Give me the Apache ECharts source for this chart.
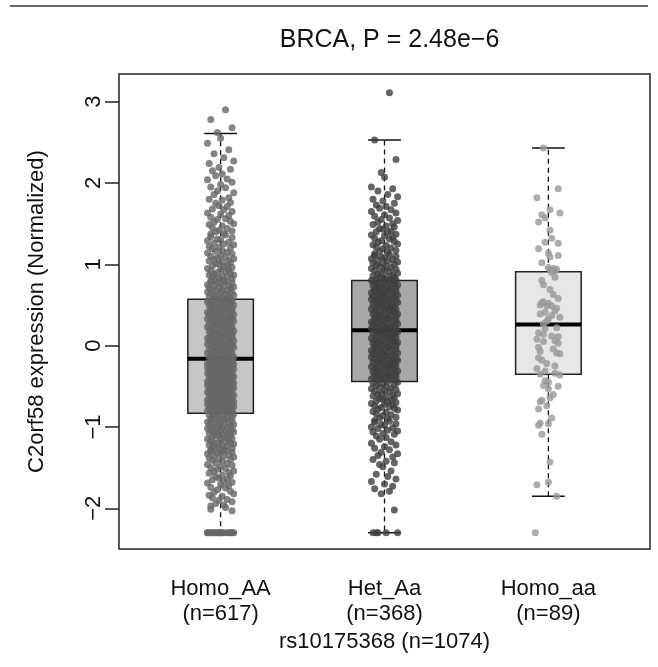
<!DOCTYPE html>
<html><head><meta charset="utf-8">
<script src="https://cdn.jsdelivr.net/npm/echarts@6/dist/echarts.min.js"></script>
<style>html,body{margin:0;padding:0;background:#fff}#c{width:658px;height:667px}</style>
</head><body><div id="c"></div>
<script>
const categories = ['Homo_AA', 'Het_Aa', 'Homo_aa'];
const groupCounts = [617, 368, 89];
const totalCount = 1074;
const titleText = 'BRCA, P = 2.48e\u22126';
const snpName = 'rs10175368';
const yTicks = [-2, -1, 0, 1, 2, 3];

// box statistics (whisker low, Q1, median, Q3, whisker high)
const boxLow = [-2.30, -2.30, -1.85];
const boxQ1 = [-0.83, -0.44, -0.35];
const boxMedian = [-0.16, 0.19, 0.26];
const boxQ3 = [0.57, 0.80, 0.91];
const boxHigh = [2.61, 2.53, 2.43];

// horizontal jitter offsets (hundredths of a category step)
const jitterTable = [3,-6,7,-2,0,-8,5,-4,2,8,-7,-1,6,-5,1,-3,4,-8,7,0,-6,3,-2,8,-4,5,-7,1,6,-3,-1,4,-5,2,7,-8,0,5,-6,3,-2,6,-4,8,-7,1,-5,4,-1,7,-3,2,-6];

const homoAAValues = [
2.90,2.78,2.68,2.62,2.55,2.49,2.41,2.36,2.31,2.27,2.24,2.19,2.17,2.15,2.11,2.09,2.05,2.04,2.01,1.98,1.95,1.94,1.90,1.88,1.86,1.82,1.80,1.79,1.76,1.75,1.72,1.71,1.68,1.67,1.65,1.63,1.62,1.60,1.58,1.56,1.55,1.53,1.52,1.50,1.49,1.47,1.45,1.44,1.42,1.41,1.40,1.38,1.37,1.36,1.34,1.33,1.31,1.30,1.29,1.27,1.26,1.25,1.24,1.22,1.21,1.20,1.19,1.17,1.16,1.15,1.14,1.13,1.11,1.10,1.09,1.08,1.07,1.06,1.05,1.04,1.03,1.02,1.01,1.00,0.99,0.98,0.97,0.96,0.95,0.94,0.93,0.92,0.91,0.90,0.89,0.88,0.87,0.87,0.86,0.85,0.84,0.83,0.82,0.81,0.80,0.80,0.79,0.78,0.77,0.77,0.76,0.75,0.74,0.74,0.73,0.72,0.71,0.71,0.70,0.69,0.68,0.68,0.67,0.66,0.65,0.65,0.64,0.63,0.62,0.62,0.61,0.60,0.60,0.59,0.58,0.58,0.57,0.57,
0.56,0.56,0.55,0.54,0.54,0.53,0.53,0.52,0.51,0.51,0.50,0.50,0.49,0.48,0.48,0.47,0.47,0.46,0.45,0.45,0.44,0.44,0.43,0.42,0.42,0.41,0.41,0.40,0.39,0.39,0.38,0.38,0.37,0.36,0.36,0.35,0.35,0.34,0.33,0.33,0.32,0.32,0.31,0.30,0.30,0.29,0.29,0.28,0.27,0.27,0.26,0.26,0.25,0.24,0.24,0.23,0.23,0.22,0.21,0.21,0.20,0.20,0.19,0.18,0.18,0.17,0.17,0.16,0.15,0.15,0.14,0.14,0.13,0.12,0.12,0.11,0.11,0.10,0.09,0.09,0.08,0.08,0.07,0.06,0.06,0.05,0.05,0.04,0.03,0.03,0.02,0.02,0.01,0.00,0.00,-0.01,-0.01,-0.02,-0.03,-0.03,-0.04,-0.04,-0.05,-0.06,-0.06,-0.07,-0.07,-0.08,-0.09,-0.09,-0.10,-0.10,-0.11,-0.12,-0.12,-0.13,-0.13,-0.14,-0.15,-0.15,-0.16,
-0.17,-0.17,-0.18,-0.18,-0.19,-0.19,-0.19,-0.20,-0.20,-0.21,-0.21,-0.22,-0.22,-0.22,-0.23,-0.23,-0.24,-0.24,-0.25,-0.25,-0.25,-0.26,-0.26,-0.27,-0.27,-0.28,-0.28,-0.28,-0.29,-0.29,-0.30,-0.30,-0.31,-0.31,-0.31,-0.32,-0.32,-0.33,-0.33,-0.34,-0.34,-0.34,-0.35,-0.35,-0.36,-0.36,-0.37,-0.37,-0.37,-0.38,-0.38,-0.39,-0.39,-0.40,-0.40,-0.40,-0.41,-0.41,-0.42,-0.42,-0.43,-0.43,-0.43,-0.44,-0.44,-0.45,-0.45,-0.46,-0.46,-0.46,-0.47,-0.47,-0.48,-0.48,-0.49,-0.49,-0.49,-0.50,-0.50,-0.51,-0.51,-0.52,-0.52,-0.52,-0.53,-0.53,-0.54,-0.54,-0.55,-0.55,-0.55,-0.56,-0.56,-0.57,-0.57,-0.58,-0.58,-0.58,-0.59,-0.59,-0.60,-0.60,-0.61,-0.61,-0.61,-0.62,-0.62,-0.63,-0.63,-0.64,-0.64,-0.64,-0.65,-0.65,-0.66,-0.66,-0.67,-0.67,-0.67,-0.68,-0.68,-0.69,-0.69,-0.70,-0.70,-0.70,-0.71,-0.71,-0.72,-0.72,-0.73,-0.73,-0.73,-0.74,-0.74,-0.75,-0.75,-0.76,-0.76,-0.76,-0.77,-0.77,-0.78,-0.78,-0.79,-0.79,-0.79,-0.80,-0.80,-0.81,-0.81,-0.82,-0.82,
-0.83,-0.84,-0.84,-0.85,-0.86,-0.86,-0.87,-0.88,-0.88,-0.89,-0.90,-0.90,-0.91,-0.92,-0.92,-0.93,-0.94,-0.94,-0.95,-0.96,-0.96,-0.97,-0.98,-0.98,-0.99,-1.00,-1.00,-1.01,-1.02,-1.02,-1.03,-1.04,-1.04,-1.05,-1.06,-1.06,-1.07,-1.08,-1.08,-1.09,-1.10,-1.10,
-1.11,-1.12,-1.13,-1.13,-1.14,-1.15,-1.16,-1.16,-1.17,-1.18,-1.19,-1.20,-1.20,-1.21,-1.22,-1.23,-1.24,-1.24,-1.25,-1.26,-1.27,-1.28,-1.28,-1.29,-1.30,-1.31,-1.32,-1.32,-1.33,-1.34,-1.35,-1.36,-1.37,-1.38,-1.39,-1.40,
-1.41,-1.42,-1.44,-1.45,-1.46,-1.47,-1.49,-1.50,-1.51,-1.52,-1.54,-1.55,-1.56,-1.57,-1.59,-1.60,-1.61,-1.63,-1.64,-1.65,-1.67,-1.68,-1.69,
-1.71,-1.72,-1.74,-1.75,-1.77,-1.79,-1.80,-1.82,-1.84,-1.85,-1.87,-1.89,-1.90,-1.92,-1.94,-1.96,-1.97,-1.99,-2.01,-2.03,
-2.30,-2.30,-2.30,-2.30,-2.30,-2.30,-2.30,-2.30,-2.30,-2.30,-2.30,-2.30,-2.30,-2.30,-2.30,-2.30,-2.30,-2.30
];

const hetAaValues = [
3.11,2.53,2.29,2.13,2.07,1.95,1.93,1.90,1.86,1.83,1.80,1.78,1.75,1.73,1.71,1.69,1.67,1.65,1.63,1.61,1.59,1.57,1.55,1.54,1.52,1.50,1.49,1.47,1.46,1.44,1.43,1.41,1.40,1.39,1.37,1.36,1.35,1.33,1.32,1.31,1.29,1.28,1.27,1.25,1.24,1.23,1.21,1.20,1.19,1.17,1.16,1.15,1.13,1.12,1.11,1.10,1.09,1.08,1.07,1.06,1.05,1.04,1.03,1.02,1.01,1.00,0.99,0.98,0.97,0.96,0.95,0.94,0.93,0.92,0.91,0.90,0.89,0.88,0.87,0.86,0.85,0.84,0.84,0.83,0.82,0.82,0.81,0.81,0.80,
0.79,0.79,0.78,0.77,0.77,0.76,0.75,0.75,0.74,0.73,0.73,0.72,0.71,0.71,0.70,0.69,0.69,0.68,0.67,0.67,0.66,0.65,0.65,0.64,0.63,0.63,0.62,0.61,0.61,0.60,0.59,0.59,0.58,0.57,0.57,0.56,0.55,0.55,0.54,0.53,0.53,0.52,0.51,0.51,0.50,0.49,0.49,0.48,0.47,0.47,0.46,0.45,0.45,0.44,0.43,0.43,0.42,0.41,0.41,0.40,0.39,0.39,0.38,0.37,0.37,0.36,0.35,0.35,0.34,0.33,0.33,0.32,0.31,0.31,0.30,0.29,0.29,0.28,0.27,0.27,0.26,0.25,0.25,0.24,0.23,0.23,0.22,0.21,0.21,0.20,0.19,0.19,
0.18,0.17,0.17,0.16,0.15,0.15,0.14,0.13,0.13,0.12,0.11,0.11,0.10,0.09,0.09,0.08,0.07,0.07,0.06,0.05,0.05,0.04,0.03,0.03,0.02,0.01,0.01,0.00,-0.01,-0.01,-0.02,-0.03,-0.03,-0.04,-0.05,-0.05,-0.06,-0.07,-0.07,-0.08,-0.09,-0.09,-0.10,-0.11,-0.11,-0.12,-0.13,-0.13,-0.14,-0.15,-0.15,-0.16,-0.17,-0.17,-0.18,-0.19,-0.19,-0.20,-0.21,-0.21,-0.22,-0.23,-0.23,-0.24,-0.25,-0.25,-0.26,-0.27,-0.27,-0.28,-0.29,-0.29,-0.30,-0.31,-0.31,-0.32,-0.33,-0.33,-0.34,-0.35,-0.35,-0.36,-0.37,-0.37,-0.38,-0.39,-0.39,-0.40,-0.41,-0.41,-0.42,-0.43,-0.44,
-0.45,-0.46,-0.47,-0.48,-0.49,-0.50,-0.51,-0.52,-0.53,-0.54,-0.55,-0.56,-0.57,-0.58,-0.59,-0.60,-0.61,-0.62,-0.63,-0.64,-0.65,-0.66,-0.67,-0.68,-0.69,-0.70,-0.71,-0.72,-0.73,-0.74,-0.75,-0.76,-0.77,-0.78,-0.79,
-0.81,-0.82,-0.84,-0.85,-0.86,-0.88,-0.89,-0.90,-0.92,-0.93,-0.94,-0.96,-0.97,-0.98,-1.00,-1.01,-1.02,-1.04,-1.05,-1.06,-1.08,-1.09,
-1.11,-1.13,-1.15,-1.18,-1.20,-1.22,-1.24,-1.26,-1.28,-1.31,-1.33,-1.35,-1.37,-1.40,-1.42,-1.44,-1.46,-1.49,
-1.54,-1.58,-1.61,-1.64,-1.67,-1.70,-1.73,-1.76,-1.79,-1.82,
-2.02,-2.30,-2.30,-2.30,-2.30,-2.30
];

const homoaaValues = [
2.43,1.93,1.82,1.67,1.63,1.61,1.57,1.52,1.42,1.32,1.27,1.26,1.19,1.14,1.11,1.09,1.02,0.96,0.95,0.94,0.93,0.92,0.90,0.84,0.80,0.69,0.58,0.54,0.52,0.50,0.49,
0.53,0.49,0.43,0.41,0.37,0.35,0.30,0.27,0.75,0.63,0.46,0.39,0.33,
0.16,0.14,0.11,0.08,0.06,0.05,0.03,-0.02,-0.07,-0.09,-0.10,-0.18,-0.22,-0.28,-0.34,-0.35,-0.36,-0.43,-0.45,-0.49,-0.50,-0.53,-0.60,-0.64,-0.67,-0.69,-0.74,-0.78,-0.89,-0.95,-0.96,-0.98,-1.09,-1.43,-1.68,-1.71,-1.85,-2.30,
0.21,0.12,-0.04,-0.15,-0.25,-0.31,0.22
];
const homoaaJitter = [
-3,6,-7,1,7,-4,-2,-6,1,2,-2,6,-6,0,6,1,-4,0,3,5,1,4,2,4,-4,1,6,-3,0,-5,2,
-4,-1,4,-2,2,7,-1,-3,-3,3,5,-5,0,
-6,-3,6,-7,4,-3,6,-6,-5,5,7,-4,-1,-7,4,-5,7,-2,0,-3,6,0,3,1,-4,-5,-1,-6,2,-5,0,-6,-4,1,0,-7,5,-8,
-2,2,3,-6,4,-2,5
];

const positions = [1, 2, 3];
const boxFills = ['#c6c6c6', '#a8a8a8', '#e7e7e7'];
const pointColors = ['#666666', '#3f3f3f', '#999999'];
const FONT = '"Liberation Sans", Arial, Helvetica, sans-serif';

function jittered(values, pos, jit) {
  return values.map((v, k) => [pos + (jit ? jit[k] : jitterTable[k % jitterTable.length]) / 100, v]);
}

const boxData = positions.map((p, i) => [p, boxLow[i], boxQ1[i], boxMedian[i], boxQ3[i], boxHigh[i], i]);

const chart = echarts.init(document.getElementById('c'), null, { renderer: 'canvas' });
chart.setOption({
  animation: false,
  backgroundColor: '#fff',
  title: {
    text: titleText, left: 384.5, top: 23, textAlign: 'center',
    textStyle: { fontSize: 25, fontWeight: 'normal', color: '#111', fontFamily: FONT }
  },
  graphic: [{ type: 'line', shape: { x1: 10, y1: 6, x2: 648, y2: 6 }, style: { stroke: '#333', lineWidth: 1.5 }, silent: true }],
  grid: { left: 119, right: 8, top: 74, bottom: 118, show: true, borderColor: '#222', borderWidth: 1.5, backgroundColor: 'transparent' },
  xAxis: {
    type: 'value', min: 0.38, max: 3.62,
    splitLine: { show: false }, axisLine: { show: false },
    axisTick: { show: true, length: 14, customValues: positions, lineStyle: { color: '#222', width: 1.5 } },
    axisLabel: {
      customValues: positions, margin: 27, fontSize: 22, lineHeight: 25, color: '#111', fontFamily: FONT,
      formatter: v => categories[Math.round(v) - 1] + '\n(n=' + groupCounts[Math.round(v) - 1] + ')'
    },
    name: snpName + ' (n=' + totalCount + ')', nameLocation: 'middle', nameGap: 76,
    nameTextStyle: { fontSize: 22, color: '#111', fontFamily: FONT }
  },
  yAxis: {
    type: 'value', min: -2.5, max: 3.34,
    splitLine: { show: false }, axisLine: { show: false },
    axisTick: { show: true, length: 14, customValues: yTicks, lineStyle: { color: '#222', width: 1.5 } },
    axisLabel: {
      customValues: yTicks, rotate: 90, margin: 14, fontSize: 22, color: '#111', fontFamily: FONT,
      formatter: v => (v < 0 ? '\u2212' + Math.abs(v) : String(v))
    },
    name: 'C2orf58 expression (Normalized)', nameLocation: 'middle', nameRotate: 90, nameGap: 71,
    nameTextStyle: { fontSize: 22, color: '#111', fontFamily: FONT }
  },
  series: [
    {
      type: 'custom', z: 1, silent: true,
      data: boxData,
      renderItem: function (params, api) {
        const x = api.value(0), lo = api.value(1), q1 = api.value(2), md = api.value(3), q3 = api.value(4), hi = api.value(5);
        const idx = api.value(6);
        const hw = 0.2, cw = 0.1;
        const c = (a, b) => api.coord([a, b]);
        const tl = c(x - hw, q3), br = c(x + hw, q1);
        const seg = (a, b, style) => ({ type: 'line', shape: { x1: a[0], y1: a[1], x2: b[0], y2: b[1] }, style: style });
        const dash = { stroke: '#111', lineWidth: 1.3, lineDash: [5, 4] };
        const solid = { stroke: '#111', lineWidth: 1.5 };
        return {
          type: 'group',
          children: [
            seg(c(x, q3), c(x, hi), dash),
            seg(c(x, q1), c(x, lo), dash),
            seg(c(x - cw, hi), c(x + cw, hi), solid),
            seg(c(x - cw, lo), c(x + cw, lo), solid),
            { type: 'rect', shape: { x: tl[0], y: tl[1], width: br[0] - tl[0], height: br[1] - tl[1] },
              style: { fill: boxFills[idx], stroke: '#222', lineWidth: 1.5 } },
            seg(c(x - hw, md), c(x + hw, md), { stroke: '#000', lineWidth: 4 })
          ]
        };
      }
    },
    { type: 'scatter', z: 2, silent: true, symbol: 'circle', symbolSize: 7, itemStyle: { color: pointColors[0] }, data: jittered(homoAAValues, positions[0]) },
    { type: 'scatter', z: 2, silent: true, symbol: 'circle', symbolSize: 7, itemStyle: { color: pointColors[1] }, data: jittered(hetAaValues, positions[1]) },
    { type: 'scatter', z: 2, silent: true, symbol: 'circle', symbolSize: 7, itemStyle: { color: pointColors[2] }, data: jittered(homoaaValues, positions[2], homoaaJitter) }
  ]
});
</script></body></html>
